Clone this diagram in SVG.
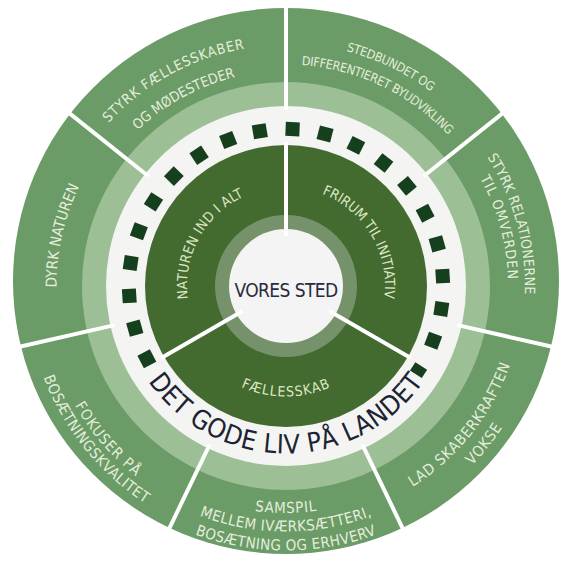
<svg xmlns="http://www.w3.org/2000/svg" xmlns:xlink="http://www.w3.org/1999/xlink" width="561" height="567" viewBox="0 0 561 567">
<style>
.t{font-family:'DejaVu Sans Condensed','DejaVu Sans','Liberation Sans',sans-serif;font-stretch:condensed;text-anchor:middle}
.o{fill:#e4eedb;font-size:15px}
.i{fill:#dce7c5;font-size:14px}
.sep{stroke:#ffffff;stroke-width:4;fill:none}
.sq{fill:#163f1d}
</style>
<defs>
<rect id="sq" x="436" y="279" width="14" height="14"/>
<path id="p1a" d="M49.75,238.36 A241,241 0 0 1 373.94,61.61"/>
<path id="p1b" d="M75.24,243.5 A215,215 0 0 1 364.45,85.82"/>
<path id="p2a" d="M185.44,65.33 A242.5,242.5 0 0 1 520.78,225.28"/>
<path id="p2b" d="M194.15,84.44 A221.5,221.5 0 0 1 500.45,230.54"/>
<path id="p3a" d="M385.87,68.87 A239,239 0 0 1 482.49,422.06"/>
<path id="p3b" d="M378.77,84.31 A222,222 0 0 1 468.52,412.38"/>
<path id="p4a" d="M292.22,523.42 A237.5,237.5 0 0 0 518.73,238.65"/>
<path id="p4b" d="M292.77,544.41 A258.5,258.5 0 0 0 539.31,234.46"/>
<path id="p5a" d="M89.41,399.5 A227,227 0 0 0 482.59,399.5"/>
<path id="p5b" d="M73.39,408.75 A245.5,245.5 0 0 0 498.61,408.75"/>
<path id="p5c" d="M56.94,418.25 A264.5,264.5 0 0 0 515.06,418.25"/>
<path id="p6a" d="M46.69,246.81 A242.5,242.5 0 0 0 288.96,528.48"/>
<path id="p6b" d="M31.85,236.14 A259,259 0 0 0 281.03,544.95"/>
<path id="p7" d="M92.01,408.63 A229.5,229.5 0 0 1 163.37,92.01"/>
<path id="pi1" d="M201.41,337.43 A99,99 0 0 1 283.75,187.03"/>
<path id="pi2" d="M284.7,187.01 A99,99 0 0 1 372.38,334.37"/>
<path id="pi3" d="M195.48,349.38 A110.5,110.5 0 0 0 376.52,349.38"/>
<path id="pt" d="M121.04,315.09 A167.5,167.5 0 0 0 450.96,315.09"/>
</defs>

<g id="rings">
<circle cx="286" cy="281" r="273" fill="#6b9b67"/>
<circle cx="286" cy="286" r="204" fill="#9cbf96"/>
<circle cx="286" cy="286" r="180" fill="#f4f5f2"/>
<circle cx="286" cy="286" r="141" fill="#436a2f"/>
<circle cx="286" cy="286" r="71" fill="#76926b"/>
<circle cx="286" cy="286" r="57" fill="#f4f4f4"/>
</g>

<g id="connectors">
<g transform="rotate(-90 286 286)"><line class="sep" x1="462" y1="286" x2="566" y2="286"/></g>
<g transform="rotate(-38.57 286 286)"><line class="sep" x1="462" y1="286" x2="566" y2="286"/></g>
<g transform="rotate(12.86 286 286)"><line class="sep" x1="462" y1="286" x2="566" y2="286"/></g>
<g transform="rotate(64.29 286 286)"><line class="sep" x1="462" y1="286" x2="566" y2="286"/></g>
<g transform="rotate(115.71 286 286)"><line class="sep" x1="462" y1="286" x2="566" y2="286"/></g>
<g transform="rotate(167.14 286 286)"><line class="sep" x1="462" y1="286" x2="566" y2="286"/></g>
<g transform="rotate(-141.43 286 286)"><line class="sep" x1="462" y1="286" x2="566" y2="286"/></g>
<g transform="rotate(-90 286 286)"><line class="sep" x1="336" y1="286" x2="430" y2="286" stroke-width="4.5"/></g>
<g transform="rotate(30 286 286)"><line class="sep" x1="336" y1="286" x2="430" y2="286" stroke-width="4.5"/></g>
<g transform="rotate(150 286 286)"><line class="sep" x1="336" y1="286" x2="430" y2="286" stroke-width="4.5"/></g>
</g>

<g id="squares" class="sq">
<rect x="436" y="281" width="14" height="10" transform="rotate(32.4 286 286)"/>
<use xlink:href="#sq" transform="rotate(20.4 286 286)"/>
<use xlink:href="#sq" transform="rotate(8.4 286 286)"/>
<use xlink:href="#sq" transform="rotate(-3.6 286 286)"/>
<use xlink:href="#sq" transform="rotate(-15.6 286 286)"/>
<use xlink:href="#sq" transform="rotate(-27.6 286 286)"/>
<use xlink:href="#sq" transform="rotate(-39.6 286 286)"/>
<use xlink:href="#sq" transform="rotate(-51.6 286 286)"/>
<use xlink:href="#sq" transform="rotate(-63.6 286 286)"/>
<use xlink:href="#sq" transform="rotate(-75.6 286 286)"/>
<use xlink:href="#sq" transform="rotate(-87.6 286 286)"/>
<use xlink:href="#sq" transform="rotate(-99.6 286 286)"/>
<use xlink:href="#sq" transform="rotate(-111.6 286 286)"/>
<use xlink:href="#sq" transform="rotate(-123.6 286 286)"/>
<use xlink:href="#sq" transform="rotate(-135.6 286 286)"/>
<use xlink:href="#sq" transform="rotate(-147.6 286 286)"/>
<use xlink:href="#sq" transform="rotate(-159.6 286 286)"/>
<use xlink:href="#sq" transform="rotate(-171.6 286 286)"/>
<use xlink:href="#sq" transform="rotate(-183.6 286 286)"/>
<use xlink:href="#sq" transform="rotate(-195.6 286 286)"/>
<use xlink:href="#sq" transform="rotate(-207.6 286 286)"/>
</g>

<g id="seg-faellesskaber" class="t o" font-size="14">
<text style="font-size:14px;letter-spacing:0.8px"><textPath xlink:href="#p1a" startOffset="50%">STYRK FÆLLESSKABER</textPath></text>
<text style="font-size:14px"><textPath xlink:href="#p1b" startOffset="50%">OG MØDESTEDER</textPath></text>
</g>
<g id="seg-byudvikling" class="t o">
<text style="font-size:12.5px;letter-spacing:-0.3px"><textPath xlink:href="#p2a" startOffset="50%">STEDBUNDET OG</textPath></text>
<text style="font-size:12.5px;letter-spacing:-0.3px"><textPath xlink:href="#p2b" startOffset="50%">DIFFERENTIERET  BYUDVIKLING</textPath></text>
</g>
<g id="seg-relationer" class="t o">
<text style="font-size:14px;letter-spacing:0.2px"><textPath xlink:href="#p3a" startOffset="50%">STYRK RELATIONERNE</textPath></text>
<text style="font-size:14px;letter-spacing:0.9px"><textPath xlink:href="#p3b" startOffset="50%">TIL OMVERDEN</textPath></text>
</g>
<g id="seg-skaberkraft" class="t o">
<text style="letter-spacing:0.8px"><textPath xlink:href="#p4a" startOffset="50%">LAD SKABERKRAFTEN</textPath></text>
<text style="letter-spacing:0.8px"><textPath xlink:href="#p4b" startOffset="50%">VOKSE</textPath></text>
</g>
<g id="seg-samspil" class="t o">
<text style="letter-spacing:0.7px"><textPath xlink:href="#p5a" startOffset="50%">SAMSPIL</textPath></text>
<text style="letter-spacing:0.4px"><textPath xlink:href="#p5b" startOffset="50%">MELLEM IVÆRKSÆTTERI,</textPath></text>
<text style="letter-spacing:0.4px"><textPath xlink:href="#p5c" startOffset="50%">BOSÆTNING OG ERHVERV</textPath></text>
</g>
<g id="seg-bosaetning" class="t o">
<text style="letter-spacing:1px"><textPath xlink:href="#p6a" startOffset="50%">FOKUSER PÅ</textPath></text>
<text style="letter-spacing:0.5px"><textPath xlink:href="#p6b" startOffset="50%">BOSÆTNINGSKVALITET</textPath></text>
</g>
<g id="seg-naturen" class="t o">
<text><textPath xlink:href="#p7" startOffset="50%">DYRK NATUREN</textPath></text>
</g>

<g id="inner-naturen" class="t i">
<text style="letter-spacing:0.3px"><textPath xlink:href="#pi1" startOffset="50%">NATUREN IND I ALT</textPath></text>
</g>
<g id="inner-frirum" class="t i">
<text><textPath xlink:href="#pi2" startOffset="50%">FRIRUM TIL INITIATIV</textPath></text>
</g>
<g id="inner-faellesskab" class="t i">
<text style="letter-spacing:1px"><textPath xlink:href="#pi3" startOffset="50%">FÆLLESSKAB</textPath></text>
</g>

<g id="center">
<text class="t" x="286" y="297" style="font-size:19px;letter-spacing:-0.6px;fill:#2a2b3a">VORES STED</text>
</g>

<g id="title">
<text class="t" style="font-size:26.5px;letter-spacing:0.5px;fill:#1d2334"><textPath xlink:href="#pt" startOffset="50%">DET GODE LIV PÅ LANDET</textPath></text>
</g>
</svg>
